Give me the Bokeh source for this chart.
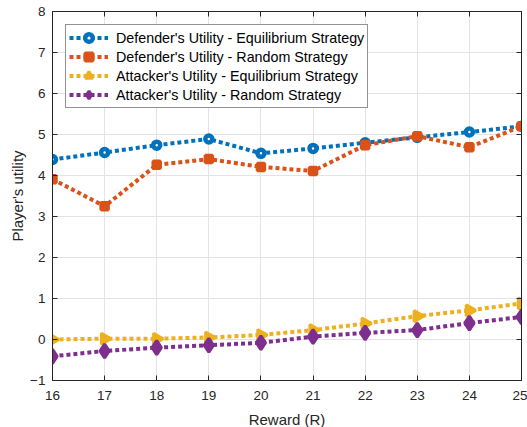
import math
from bokeh.plotting import figure
from bokeh.models import LinearAxis, Legend, LegendItem, FixedTicker
from bokeh.embed import file_html
from bokeh.resources import INLINE

reward = [16, 17, 18, 19, 20, 21, 22, 23, 24, 25]
def_eq = [4.39, 4.56, 4.74, 4.89, 4.54, 4.66, 4.80, 4.93, 5.06, 5.20]
def_rand = [3.91, 3.25, 4.26, 4.40, 4.21, 4.11, 4.74, 4.96, 4.69, 5.20]
att_eq = [0.00, 0.02, 0.02, 0.05, 0.11, 0.23, 0.39, 0.57, 0.71, 0.88]
att_rand = [-0.41, -0.28, -0.20, -0.14, -0.08, 0.07, 0.16, 0.23, 0.40, 0.55]
y_ticks = [-1, 0, 1, 2, 3, 4, 5, 6, 7, 8]

labels = ["Defender's Utility - Equilibrium Strategy",
          "Defender's Utility - Random Strategy",
          "Attacker's Utility - Equilibrium Strategy",
          "Attacker's Utility - Random Strategy"]
colors = ["#0072BD", "#D95319", "#EDB120", "#7E2F8E"]

FONT = "Liberation Sans"
AX = "#262626"

p = figure(frame_width=469, frame_height=369, x_range=(16, 25), y_range=(-1, 8),
           output_backend="svg", toolbar_location=None,
           min_border_left=52, min_border_right=6, min_border_top=11, min_border_bottom=47,
           background_fill_color="white", border_fill_color="white")
p.outline_line_color = AX
p.outline_line_width = 1

for ax in (p.xaxis[0], p.yaxis[0]):
    ax.major_tick_in = 5
    ax.major_tick_out = 0
    ax.minor_tick_line_color = None
    ax.axis_line_color = AX
    ax.major_tick_line_color = AX
    ax.major_label_text_font = FONT
    ax.major_label_text_font_size = "13.5px"
    ax.major_label_text_color = AX
    ax.axis_label_text_font = FONT
    ax.axis_label_text_font_size = "15px"
    ax.axis_label_text_font_style = "normal"
    ax.axis_label_text_color = AX

p.xaxis.ticker = FixedTicker(ticks=reward)
p.yaxis.ticker = FixedTicker(ticks=y_ticks)
p.xaxis.axis_label = "Reward (R)"
p.yaxis.axis_label = "Player's utility"
p.xaxis.major_label_standoff = 10
p.yaxis.major_label_standoff = 7
p.xaxis.axis_label_standoff = 8
p.yaxis.axis_label_standoff = 1

for loc, ticks in (("right", y_ticks), ("above", reward)):
    a = LinearAxis(ticker=FixedTicker(ticks=ticks), major_tick_in=5, major_tick_out=0,
                   minor_tick_line_color=None,
                   major_label_overrides={t: "" for t in ticks},
                   major_label_standoff=0, axis_line_color=AX,
                   major_tick_line_color=AX)
    p.add_layout(a, loc)

p.grid.grid_line_color = "#e3e3e3"
p.grid.grid_line_width = 1
p.xgrid.ticker = FixedTicker(ticks=reward)
p.ygrid.ticker = FixedTicker(ticks=y_ticks)

series = [def_eq, def_rand, att_eq, att_rand]
markers = ["circle", "square", "triangle", "diamond"]
sizes = [7, 7, 11, 14]
lws = [4.5, 3.5, 3, 3]
fills = ["white", "#D95319", "#EDB120", "#7E2F8E"]
angles = [0, 0, -math.pi / 2, 0]
items = []
for ys, col, mk, sz, lw, fc, ang, lab in zip(series, colors, markers, sizes, lws, fills, angles, labels):
    r1 = p.line(reward, ys, line_color=col, line_width=4, line_dash="4 3", line_cap="butt")
    r2 = p.scatter(reward, ys, marker=mk, size=sz, angle=ang, line_color=col, line_width=lw,
                   fill_color=fc)
    items.append(LegendItem(label=lab, renderers=[r1, r2]))

leg = Legend(items=items, location="top_left")
leg.margin = 13
leg.padding = 3
leg.spacing = 0
leg.glyph_width = 39
leg.glyph_height = 19
leg.label_height = 19
leg.label_standoff = 8
leg.label_text_font = FONT
leg.label_text_font_size = "14.3px"
leg.label_text_color = "#000000"
leg.border_line_color = AX
leg.border_line_width = 1
leg.background_fill_alpha = 1
p.add_layout(leg, "center")

open("out.html", "w").write(file_html(p, INLINE))
